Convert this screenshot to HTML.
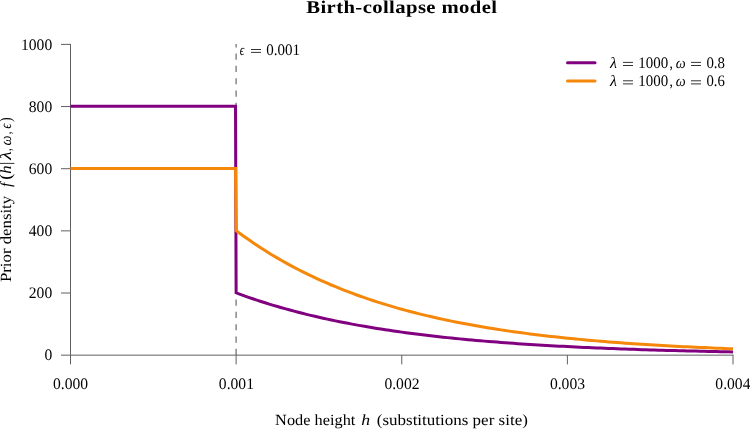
<!DOCTYPE html>
<html><head><meta charset="utf-8"><style>
html,body{margin:0;padding:0;background:#fff;}
body{width:750px;height:429px;overflow:hidden;}
svg{display:block;text-rendering:geometricPrecision;filter:blur(0.35px);}
</style></head><body>
<svg width="750" height="429" viewBox="0 0 750 429"><rect width="750" height="429" fill="#fff"/><g transform="translate(306.60,0) scale(1.15,1)"><text x="-0.30" y="12.8" font-family="Liberation Serif, serif" font-size="18" font-weight="bold" fill="#000" textLength="165.97" lengthAdjust="spacing">Birth-collapse model</text></g><line x1="236.12" y1="44" x2="236.12" y2="355.15" stroke="#888" stroke-width="1.5" stroke-dasharray="6.2 6.1" stroke-dashoffset="2.75"/><line x1="70.5" y1="43.90" x2="70.5" y2="355.65" stroke="#606060" stroke-width="1"/><line x1="70" y1="355.15" x2="733.5" y2="355.15" stroke="#606060" stroke-width="1"/><line x1="61" y1="355.15" x2="70.5" y2="355.15" stroke="#606060" stroke-width="1"/><text x="44.39" y="360.40" font-family="Liberation Serif, serif" font-size="16" fill="#000" textLength="7.80" lengthAdjust="spacingAndGlyphs">0</text><line x1="61" y1="293.00" x2="70.5" y2="293.00" stroke="#606060" stroke-width="1"/><text x="28.79" y="298.25" font-family="Liberation Serif, serif" font-size="16" fill="#000" textLength="23.40" lengthAdjust="spacingAndGlyphs">200</text><line x1="61" y1="230.85" x2="70.5" y2="230.85" stroke="#606060" stroke-width="1"/><text x="28.79" y="236.10" font-family="Liberation Serif, serif" font-size="16" fill="#000" textLength="23.40" lengthAdjust="spacingAndGlyphs">400</text><line x1="61" y1="168.70" x2="70.5" y2="168.70" stroke="#606060" stroke-width="1"/><text x="28.79" y="173.95" font-family="Liberation Serif, serif" font-size="16" fill="#000" textLength="23.40" lengthAdjust="spacingAndGlyphs">600</text><line x1="61" y1="106.55" x2="70.5" y2="106.55" stroke="#606060" stroke-width="1"/><text x="28.79" y="111.80" font-family="Liberation Serif, serif" font-size="16" fill="#000" textLength="23.40" lengthAdjust="spacingAndGlyphs">800</text><line x1="61" y1="44.40" x2="70.5" y2="44.40" stroke="#606060" stroke-width="1"/><text x="20.99" y="49.65" font-family="Liberation Serif, serif" font-size="16" fill="#000" textLength="31.20" lengthAdjust="spacingAndGlyphs">1000</text><line x1="70.50" y1="355.15" x2="70.50" y2="364.4" stroke="#606060" stroke-width="1"/><text x="53.05" y="388.60" font-family="Liberation Serif, serif" font-size="16" fill="#000" textLength="35.10" lengthAdjust="spacingAndGlyphs">0.000</text><line x1="236.12" y1="355.15" x2="236.12" y2="364.4" stroke="#606060" stroke-width="1"/><text x="218.85" y="388.60" font-family="Liberation Serif, serif" font-size="16" fill="#000" textLength="35.10" lengthAdjust="spacingAndGlyphs">0.001</text><line x1="401.75" y1="355.15" x2="401.75" y2="364.4" stroke="#606060" stroke-width="1"/><text x="384.43" y="388.60" font-family="Liberation Serif, serif" font-size="16" fill="#000" textLength="35.10" lengthAdjust="spacingAndGlyphs">0.002</text><line x1="567.38" y1="355.15" x2="567.38" y2="364.4" stroke="#606060" stroke-width="1"/><text x="549.93" y="388.60" font-family="Liberation Serif, serif" font-size="16" fill="#000" textLength="35.10" lengthAdjust="spacingAndGlyphs">0.003</text><line x1="733.00" y1="355.15" x2="733.00" y2="364.4" stroke="#606060" stroke-width="1"/><text x="715.37" y="388.60" font-family="Liberation Serif, serif" font-size="16" fill="#000" textLength="35.10" lengthAdjust="spacingAndGlyphs">0.004</text><path d="M70.50 106.20 L235.53 106.20 L236.12 292.80 L240.27 294.34 L244.41 295.83 L248.55 297.29 L252.69 298.72 L256.83 300.11 L260.97 301.46 L265.11 302.79 L269.25 304.07 L273.39 305.33 L277.53 306.56 L281.67 307.75 L285.81 308.92 L289.95 310.06 L294.09 311.17 L298.23 312.25 L302.38 313.31 L306.52 314.34 L310.66 315.34 L314.80 316.32 L318.94 317.27 L323.08 318.21 L327.22 319.11 L331.36 320.00 L335.50 320.86 L339.64 321.71 L343.78 322.53 L347.92 323.33 L352.06 324.11 L356.20 324.88 L360.34 325.62 L364.48 326.34 L368.62 327.05 L372.77 327.74 L376.91 328.41 L381.05 329.07 L385.19 329.71 L389.33 330.34 L393.47 330.94 L397.61 331.54 L401.75 332.12 L405.89 332.68 L410.03 333.23 L414.17 333.77 L418.31 334.30 L422.45 334.81 L426.59 335.31 L430.73 335.79 L434.88 336.27 L439.02 336.73 L443.16 337.18 L447.30 337.62 L451.44 338.05 L455.58 338.47 L459.72 338.88 L463.86 339.27 L468.00 339.66 L472.14 340.04 L476.28 340.41 L480.42 340.77 L484.56 341.12 L488.70 341.46 L492.84 341.80 L496.98 342.12 L501.12 342.44 L505.27 342.75 L509.41 343.05 L513.55 343.35 L517.69 343.64 L521.83 343.92 L525.97 344.19 L530.11 344.46 L534.25 344.72 L538.39 344.97 L542.53 345.22 L546.67 345.46 L550.81 345.70 L554.95 345.93 L559.09 346.15 L563.23 346.37 L567.38 346.58 L571.52 346.79 L575.66 346.99 L579.80 347.19 L583.94 347.38 L588.08 347.57 L592.22 347.75 L596.36 347.93 L600.50 348.11 L604.64 348.28 L608.78 348.44 L612.92 348.61 L617.06 348.76 L621.20 348.92 L625.34 349.07 L629.48 349.21 L633.63 349.36 L637.77 349.50 L641.91 349.63 L646.05 349.77 L650.19 349.89 L654.33 350.02 L658.47 350.14 L662.61 350.26 L666.75 350.38 L670.89 350.49 L675.03 350.61 L679.17 350.71 L683.31 350.82 L687.45 350.92 L691.59 351.02 L695.73 351.12 L699.88 351.22 L704.02 351.31 L708.16 351.40 L712.30 351.49 L716.44 351.58 L720.58 351.66 L724.72 351.74 L728.86 351.82 L733.00 351.90" fill="none" stroke="#800080" stroke-width="3"/><path d="M70.50 168.40 L235.53 168.40 L236.12 230.60 L240.27 233.67 L244.41 236.67 L248.55 239.59 L252.69 242.44 L256.83 245.22 L260.97 247.93 L265.11 250.57 L269.25 253.15 L273.39 255.66 L277.53 258.12 L281.67 260.51 L285.81 262.84 L289.95 265.12 L294.09 267.34 L298.23 269.50 L302.38 271.61 L306.52 273.67 L310.66 275.68 L314.80 277.64 L318.94 279.55 L323.08 281.41 L327.22 283.23 L331.36 285.00 L335.50 286.73 L339.64 288.41 L343.78 290.06 L347.92 291.66 L352.06 293.22 L356.20 294.75 L360.34 296.24 L364.48 297.69 L368.62 299.10 L372.77 300.48 L376.91 301.83 L381.05 303.14 L385.19 304.42 L389.33 305.67 L393.47 306.89 L397.61 308.08 L401.75 309.24 L405.89 310.37 L410.03 311.47 L414.17 312.54 L418.31 313.59 L422.45 314.61 L426.59 315.61 L430.73 316.58 L434.88 317.53 L439.02 318.46 L443.16 319.36 L447.30 320.24 L451.44 321.10 L455.58 321.93 L459.72 322.75 L463.86 323.55 L468.00 324.32 L472.14 325.08 L476.28 325.82 L480.42 326.54 L484.56 327.24 L488.70 327.93 L492.84 328.60 L496.98 329.25 L501.12 329.88 L505.27 330.50 L509.41 331.11 L513.55 331.70 L517.69 332.27 L521.83 332.84 L525.97 333.38 L530.11 333.92 L534.25 334.44 L538.39 334.94 L542.53 335.44 L546.67 335.92 L550.81 336.39 L554.95 336.85 L559.09 337.30 L563.23 337.74 L567.38 338.16 L571.52 338.58 L575.66 338.99 L579.80 339.38 L583.94 339.77 L588.08 340.14 L592.22 340.51 L596.36 340.87 L600.50 341.22 L604.64 341.56 L608.78 341.89 L612.92 342.21 L617.06 342.53 L621.20 342.84 L625.34 343.14 L629.48 343.43 L633.63 343.71 L637.77 343.99 L641.91 344.27 L646.05 344.53 L650.19 344.79 L654.33 345.04 L658.47 345.29 L662.61 345.53 L666.75 345.76 L670.89 345.99 L675.03 346.21 L679.17 346.43 L683.31 346.64 L687.45 346.85 L691.59 347.05 L695.73 347.24 L699.88 347.44 L704.02 347.62 L708.16 347.80 L712.30 347.98 L716.44 348.16 L720.58 348.32 L724.72 348.49 L728.86 348.65 L733.00 348.81" fill="none" stroke="#F5880A" stroke-width="3"/><text x="239.86" y="54.80" font-family="Liberation Serif, serif" font-size="15.6" font-style="italic" fill="#000" textLength="4.57" lengthAdjust="spacingAndGlyphs">ϵ</text><line x1="251" y1="49.5" x2="261" y2="49.5" stroke="#000" stroke-width="0.8"/><line x1="251" y1="52.4" x2="261" y2="52.4" stroke="#000" stroke-width="0.8"/><text x="266.23" y="54.80" font-family="Liberation Serif, serif" font-size="16" fill="#000" textLength="33.77" lengthAdjust="spacingAndGlyphs">0.001</text><line x1="567.5" y1="62.7" x2="595" y2="62.7" stroke="#800080" stroke-width="3" stroke-linecap="round"/><line x1="567.5" y1="81" x2="595" y2="81" stroke="#F5880A" stroke-width="3" stroke-linecap="round"/><text x="610.10" y="68.05" font-family="Liberation Serif, serif" font-size="15.6" font-style="italic" fill="#000" textLength="7.01" lengthAdjust="spacingAndGlyphs">λ</text><line x1="623" y1="62.4" x2="633" y2="62.4" stroke="#000" stroke-width="0.8"/><line x1="623" y1="65.5" x2="633" y2="65.5" stroke="#000" stroke-width="0.8"/><text x="638.29" y="68.05" font-family="Liberation Serif, serif" font-size="16" fill="#000" textLength="29.88" lengthAdjust="spacingAndGlyphs">1000</text><text x="669.59" y="68.05" font-family="Liberation Serif, serif" font-size="15.6" fill="#000" textLength="3.36" lengthAdjust="spacingAndGlyphs">,</text><text x="675.74" y="68.05" font-family="Liberation Serif, serif" font-size="15.6" font-style="italic" fill="#000" textLength="9.88" lengthAdjust="spacingAndGlyphs">ω</text><line x1="691" y1="62.4" x2="701" y2="62.4" stroke="#000" stroke-width="0.8"/><line x1="691" y1="65.5" x2="701" y2="65.5" stroke="#000" stroke-width="0.8"/><text x="706.44" y="68.05" font-family="Liberation Serif, serif" font-size="16" fill="#000" textLength="18.53" lengthAdjust="spacingAndGlyphs">0.8</text><text x="610.10" y="86.45" font-family="Liberation Serif, serif" font-size="15.6" font-style="italic" fill="#000" textLength="7.01" lengthAdjust="spacingAndGlyphs">λ</text><line x1="623" y1="80.8" x2="633" y2="80.8" stroke="#000" stroke-width="0.8"/><line x1="623" y1="83.9" x2="633" y2="83.9" stroke="#000" stroke-width="0.8"/><text x="638.29" y="86.45" font-family="Liberation Serif, serif" font-size="16" fill="#000" textLength="29.88" lengthAdjust="spacingAndGlyphs">1000</text><text x="669.59" y="86.45" font-family="Liberation Serif, serif" font-size="15.6" fill="#000" textLength="3.36" lengthAdjust="spacingAndGlyphs">,</text><text x="675.74" y="86.45" font-family="Liberation Serif, serif" font-size="15.6" font-style="italic" fill="#000" textLength="9.88" lengthAdjust="spacingAndGlyphs">ω</text><line x1="691" y1="80.8" x2="701" y2="80.8" stroke="#000" stroke-width="0.8"/><line x1="691" y1="83.9" x2="701" y2="83.9" stroke="#000" stroke-width="0.8"/><text x="706.44" y="86.45" font-family="Liberation Serif, serif" font-size="16" fill="#000" textLength="18.40" lengthAdjust="spacingAndGlyphs">0.6</text><text x="275.13" y="425.00" font-family="Liberation Serif, serif" font-size="15.6" fill="#000" textLength="80.27" lengthAdjust="spacingAndGlyphs">Node height</text><text x="361.26" y="425.00" font-family="Liberation Serif, serif" font-size="15.6" font-style="italic" fill="#000" textLength="8.88" lengthAdjust="spacingAndGlyphs">h</text><text x="376.75" y="425.00" font-family="Liberation Serif, serif" font-size="15.6" fill="#000" textLength="151.09" lengthAdjust="spacingAndGlyphs">(substitutions per site)</text><g transform="translate(11.3,0) rotate(-90)"><text x="-282.08" y="0.00" font-family="Liberation Serif, serif" font-size="15.6" fill="#000" textLength="86.25" lengthAdjust="spacingAndGlyphs">Prior density</text><text x="-186.95" y="0.00" font-family="Liberation Serif, serif" font-size="15.6" font-style="italic" fill="#000" textLength="4.33" lengthAdjust="spacingAndGlyphs">f</text><text x="-179.82" y="0.00" font-family="Liberation Serif, serif" font-size="17" fill="#000" textLength="6.22" lengthAdjust="spacingAndGlyphs">(</text><text x="-173.80" y="0.00" font-family="Liberation Serif, serif" font-size="15.6" font-style="italic" fill="#000" textLength="8.29" lengthAdjust="spacingAndGlyphs">h</text><line x1="-163.4" y1="-12.2" x2="-163.4" y2="3.1" stroke="#000" stroke-width="0.8"/><text x="-159.73" y="0.00" font-family="Liberation Serif, serif" font-size="15.6" font-style="italic" fill="#000" textLength="8.41" lengthAdjust="spacingAndGlyphs">λ</text><text x="-151.01" y="0.00" font-family="Liberation Serif, serif" font-size="15.6" fill="#000" textLength="2.69" lengthAdjust="spacingAndGlyphs">,</text><text x="-145.47" y="0.00" font-family="Liberation Serif, serif" font-size="15.6" font-style="italic" fill="#000" textLength="9.99" lengthAdjust="spacingAndGlyphs">ω</text><text x="-134.21" y="0.00" font-family="Liberation Serif, serif" font-size="15.6" fill="#000" textLength="2.69" lengthAdjust="spacingAndGlyphs">,</text><text x="-128.45" y="0.00" font-family="Liberation Serif, serif" font-size="15.6" font-style="italic" fill="#000" textLength="4.77" lengthAdjust="spacingAndGlyphs">ϵ</text><text x="-122.05" y="0.00" font-family="Liberation Serif, serif" font-size="17" fill="#000" textLength="4.67" lengthAdjust="spacingAndGlyphs">)</text></g></svg>
</body></html>
